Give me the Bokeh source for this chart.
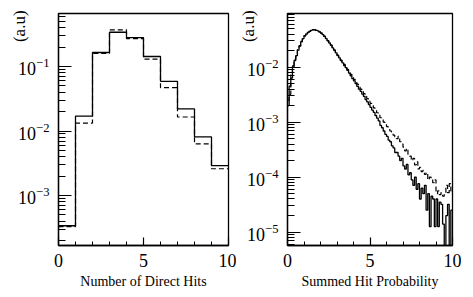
import numpy as np
from bokeh.plotting import figure
from bokeh.layouts import row
from bokeh.models import SingleIntervalTicker, LogTicker
from bokeh.embed import file_html
from bokeh.resources import INLINE

# ---- left panel: number of direct hits (bins of width 1, 0..10)
hits_edges = [0, 1, 2, 3, 4, 5, 6, 7, 8, 9, 10]
hits_solid = [3.4e-4, 0.017, 0.165, 0.34, 0.28, 0.143, 0.059, 0.022, 0.0081, 0.0029]
hits_dashed = [3.3e-4, 0.0133, 0.16, 0.37, 0.27, 0.13, 0.047, 0.0165, 0.0063, 0.0026]

# ---- right panel: summed hit probability (100 bins of width 0.1, 0..10)
prob_edges = [i / 10 for i in range(101)]
prob_solid = [
    2.0e-3, 4.5e-3, 6.3e-3, 1.05e-2, 1.32e-2, 1.62e-2, 2.04e-2, 2.45e-2, 2.88e-2, 3.31e-2,
    3.72e-2, 3.98e-2, 4.27e-2, 4.47e-2, 4.68e-2, 4.79e-2, 4.79e-2, 4.68e-2, 4.57e-2, 4.37e-2,
    4.17e-2, 3.89e-2, 3.63e-2, 3.31e-2, 3.02e-2, 2.75e-2, 2.51e-2, 2.24e-2, 2.04e-2, 1.82e-2,
    1.62e-2, 1.48e-2, 1.32e-2, 1.20e-2, 1.07e-2, 9.77e-3, 8.71e-3, 7.76e-3, 6.92e-3, 6.17e-3,
    5.62e-3, 5.01e-3, 4.47e-3, 3.98e-3, 3.63e-3, 3.24e-3, 2.95e-3, 2.57e-3, 2.34e-3, 2.09e-3,
    1.86e-3, 1.66e-3, 1.51e-3, 1.32e-3, 1.18e-3, 1.05e-3, 8.7e-4, 7.9e-4, 6.9e-4, 6.0e-4,
    5.5e-4, 4.7e-4, 4.4e-4, 3.7e-4, 3.4e-4, 2.8e-4, 2.8e-4, 2.4e-4, 2.0e-4, 2.2e-4,
    1.6e-4, 1.4e-4, 1.7e-4, 1.1e-4, 1.2e-4, 8.9e-5, 7.1e-5, 1.0e-4, 6.0e-5, 7.6e-5,
    4.0e-5, 6.3e-5, 5.0e-5, 7.1e-5, 2.5e-5, 5.0e-5, 1.26e-5, 4.5e-5, 4.0e-5, 1.26e-5,
    4.0e-5, 1.26e-5, 3.5e-5, 3.2e-5, 1.4e-5, 0.0, 2.0e-5, 3.2e-5, 0.0, 2.5e-5,
]
prob_dashed = [
    2.5e-3, 3.2e-3, 7.9e-3, 9.5e-3, 1.38e-2, 1.58e-2, 2.09e-2, 2.40e-2, 2.95e-2, 3.24e-2,
    3.72e-2, 3.98e-2, 4.27e-2, 4.47e-2, 4.68e-2, 4.79e-2, 4.79e-2, 4.68e-2, 4.57e-2, 4.37e-2,
    4.17e-2, 3.89e-2, 3.63e-2, 3.31e-2, 3.02e-2, 2.75e-2, 2.51e-2, 2.29e-2, 2.04e-2, 1.86e-2,
    1.66e-2, 1.51e-2, 1.35e-2, 1.23e-2, 1.12e-2, 1.00e-2, 9.1e-3, 8.1e-3, 7.4e-3, 6.6e-3,
    6.0e-3, 5.4e-3, 4.9e-3, 4.5e-3, 4.0e-3, 3.6e-3, 3.3e-3, 2.95e-3, 2.69e-3, 2.40e-3,
    2.19e-3, 2.0e-3, 1.82e-3, 1.66e-3, 1.48e-3, 1.38e-3, 1.20e-3, 1.12e-3, 1.0e-3, 9.3e-4,
    8.3e-4, 7.9e-4, 6.9e-4, 6.6e-4, 5.8e-4, 5.4e-4, 5.0e-4, 5.5e-4, 4.4e-4, 4.0e-4,
    3.5e-4, 3.0e-4, 3.3e-4, 2.6e-4, 2.4e-4, 2.0e-4, 2.2e-4, 1.66e-4, 1.9e-4, 1.41e-4,
    1.51e-4, 1.26e-4, 1.32e-4, 1.12e-4, 1.20e-4, 8.9e-5, 1.0e-4, 9.5e-5, 7.9e-5, 8.9e-5,
    5.0e-5, 5.6e-5, 4.8e-5, 5.2e-5, 4.5e-5, 5.0e-5, 7.1e-5, 5.2e-5, 7.6e-5, 5.6e-5,
]

left_xlabel = "Number of Direct Hits"
right_xlabel = "Summed Hit Probability"
ylabel = "(a.u)"

FONT = "Liberation Serif"


def step_path(edges, vals, floor=1e-12):
    e = np.asarray(edges, dtype=float)
    v = np.asarray(vals, dtype=float)
    v = np.where(v > 0, v, floor)
    xs = np.repeat(e, 2)[1:-1]
    ys = np.repeat(v, 2)
    return xs, ys


def make_panel(edges, solid, dashed, xlabel, yrange, width, bl, br):
    p = figure(width=width, height=297, y_axis_type="log",
               x_range=(0, 10), y_range=yrange,
               output_backend="svg", toolbar_location=None,
               min_border_left=bl, min_border_right=br,
               min_border_top=13, min_border_bottom=52)
    p.xgrid.visible = False
    p.ygrid.visible = False
    p.outline_line_color = "black"
    p.outline_line_width = 1.3
    p.outline_line_alpha = 1.0
    p.background_fill_color = "white"
    p.border_fill_color = "white"

    xs, ys = step_path(edges, dashed)
    p.line(xs, ys, line_color="black", line_width=1.2, line_dash="5 3")
    xs, ys = step_path(edges, solid)
    p.line(xs, ys, line_color="black", line_width=1.3)

    p.xaxis.ticker = SingleIntervalTicker(interval=5, num_minor_ticks=5)
    p.yaxis.ticker = LogTicker(num_minor_ticks=10)
    for ax in (p.xaxis[0], p.yaxis[0]):
        ax.axis_line_color = "black"
        ax.axis_line_width = 1.3
        ax.major_tick_out = 0
        ax.minor_tick_out = 0
        ax.major_tick_line_color = "black"
        ax.minor_tick_line_color = "black"
        ax.major_tick_line_width = 1.2
        ax.minor_tick_line_width = 1.0
        ax.major_label_text_font = FONT
        ax.major_label_text_color = "black"
        ax.major_label_text_font_size = "18px"
    p.xaxis.major_tick_in = 8
    p.xaxis.minor_tick_in = 4
    p.yaxis.major_tick_in = 13
    p.yaxis.minor_tick_in = 7
    p.yaxis.major_label_standoff = 9
    p.xaxis.major_label_standoff = 8

    p.xaxis.axis_label = xlabel
    p.xaxis.axis_label_text_font = FONT
    p.xaxis.axis_label_text_font_style = "normal"
    p.xaxis.axis_label_text_font_size = "14px"
    p.xaxis.axis_label_text_color = "black"
    p.xaxis.axis_label_standoff = 4

    # label anchored at the top end of the axis; trailing no-break spaces
    # push the visible glyphs down inside the canvas
    ya = p.yaxis[0]
    ya.axis_label = ylabel + "\u00a0" * 6
    ya.axis_label_text_font = FONT
    ya.axis_label_text_font_style = "normal"
    ya.axis_label_text_font_size = "17px"
    ya.axis_label_text_color = "black"
    ya.axis_label_standoff = -14
    ya.axis_label_align = "end"
    return p


left = make_panel(hits_edges, hits_solid, hits_dashed, left_xlabel,
                  (1.68e-4, 0.664), 236, 58, 8)
right = make_panel(prob_edges, prob_solid, prob_dashed, right_xlabel,
                   (5.7e-6, 0.0946), 237, 47, 21)

layout = row(left, right)
open("out.html", "w").write(file_html(layout, INLINE))
